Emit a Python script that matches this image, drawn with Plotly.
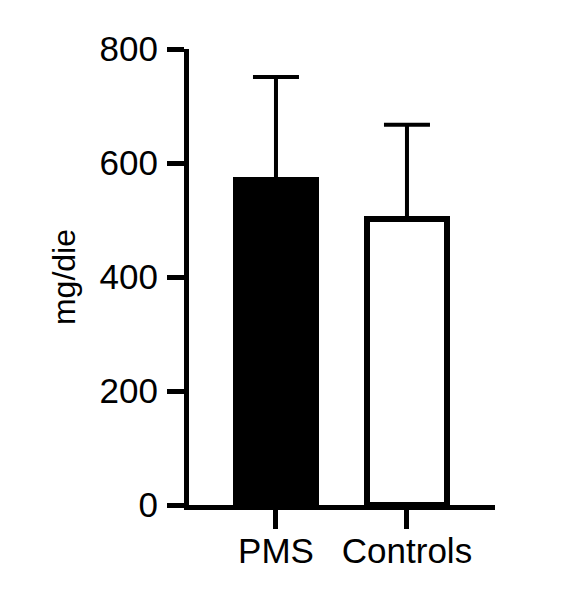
import plotly.graph_objects as go

categories = ["PMS", "Controls"]
means = [570, 502]
sd = [181, 165]
fill_colors = ["#000000", "#ffffff"]
y_ticks = [0, 200, 400, 600, 800]

fig = go.Figure()
fig.add_trace(go.Bar(
    x=categories, y=means,
    width=0.61,
    marker=dict(color=fill_colors, line=dict(color="#000000", width=6)),
    error_y=dict(type="data", symmetric=False, array=sd, arrayminus=[0, 0],
                 color="#000000", thickness=4, width=23),
))

fig.update_layout(
    width=552, height=584,
    margin=dict(l=181, r=65, t=41, b=87, pad=0),
    plot_bgcolor="white", paper_bgcolor="white",
    font=dict(family="Liberation Sans, Arial, sans-serif", color="#000000"),
    showlegend=False,
    bargap=0,
)
fig.update_xaxes(
    range=[-0.664, 1.672],
    showline=True, linecolor="#000000", linewidth=5,
    ticks="outside", ticklen=19, tickwidth=5, tickcolor="#000000",
    tickfont=dict(size=35), showgrid=False, zeroline=False,
    ticklabelstandoff=-8,
)
fig.update_yaxes(
    range=[0, 800],
    tickvals=y_ticks,
    showline=True, linecolor="#000000", linewidth=5,
    ticks="outside", ticklen=17, tickwidth=5, tickcolor="#000000",
    tickfont=dict(size=35), showgrid=False, zeroline=False,
    ticklabelstandoff=2,
    title=dict(text="mg/die", font=dict(size=32), standoff=16),
)

fig.write_html("out.html")
